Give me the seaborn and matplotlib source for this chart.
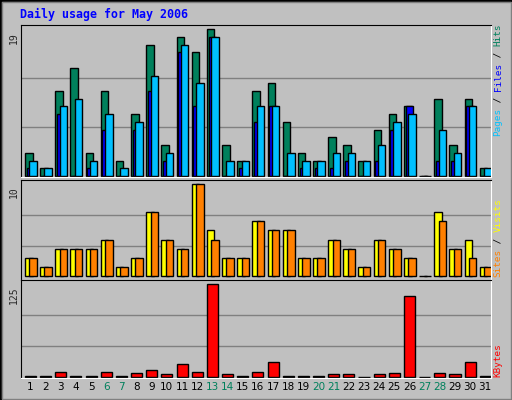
import numpy as np
import matplotlib
matplotlib.use("Agg")
import matplotlib.pyplot as plt
import seaborn as sns
from matplotlib.patches import Rectangle

sns.set_style("white")
plt.rcParams["font.family"] = ["DejaVu Sans"]

# --- data ---
days = list(range(1, 32))
hits = [3, 1, 11, 14, 3, 11, 2, 8, 17, 4, 18, 16, 19, 4, 2, 11, 12, 7, 3, 2, 5, 4, 2, 6, 8, 9, 0, 10, 4, 10, 1]
files = [2, 1, 9, 10, 2, 8, 1, 7, 13, 3, 17, 12, 18, 2, 2, 9, 9, 3, 2, 2, 3, 3, 2, 4, 7, 8, 0, 6, 3, 9, 1]
pages = [1, 0, 8, 0, 1, 6, 0, 6, 11, 2, 16, 9, 18, 0, 1, 7, 9, 0, 1, 1, 1, 2, 0, 2, 6, 9, 0, 2, 2, 9, 0]
visits = [2, 1, 3, 3, 3, 4, 1, 2, 7, 4, 3, 10, 5, 2, 2, 6, 5, 5, 2, 2, 4, 3, 1, 4, 3, 2, 0, 7, 3, 4, 1]
sites = [2, 1, 3, 3, 3, 4, 1, 2, 7, 4, 3, 10, 4, 2, 2, 6, 5, 5, 2, 2, 4, 3, 1, 4, 3, 2, 0, 6, 3, 2, 1]
kbytes = [1, 1, 6, 1, 1, 6, 1, 4.5, 9, 3, 17, 7, 125, 3, 1, 6, 20, 1, 1, 1, 3, 3, 0, 3, 4.5, 109, 0, 4.5, 3, 20, 1]
weekend_days = [6, 7, 13, 14, 20, 21, 27, 28]

BG = "#C0C0C0"
W, H = 512, 400
fig = plt.figure(figsize=(W / 100, H / 100), dpi=100, facecolor=BG)

def fax(x0, y0, x1, y1):
    # pixel box (top-left origin) -> figure axes
    return fig.add_axes([x0 / W, 1 - y1 / H, (x1 - x0) / W, (y1 - y0) / H])

def style(ax, ylim, top):
    ax.set_facecolor(BG)
    ax.set_xlim(0.5, 31.5)
    ax.set_ylim(*ylim)
    ax.set_xticks([])
    ax.set_yticks([])
    for y in (top / 3, 2 * top / 3):
        ax.axhline(y, color="#808080", lw=1, zorder=0)
    for s in ("top", "left"):
        ax.spines[s].set_color("black")
    for s in ("bottom", "right"):
        ax.spines[s].set_color("white")

x = np.array(days)
bar_kw = dict(edgecolor="black", linewidth=1, align="edge")

ax1 = fax(21, 25, 491, 177)
style(ax1, (-0.13, 19.55), 19)
ax1.bar(x - 0.24, hits, width=0.5, color="#00805C", **bar_kw)
ax1.bar(x - 0.13, pages, width=0.5, color="#0000FF", **bar_kw)
ax1.bar(x + 0.05, files, width=0.49, color="#00C0FF", **bar_kw)

ax2 = fax(21, 180, 491, 280)
style(ax2, (-0.4, 10.47), 10)
ax2.bar(x - 0.24, visits, width=0.5, color="#FFFF00", **bar_kw)
ax2.bar(x + 0.05, sites, width=0.49, color="#FF8000", **bar_kw)

ax3 = fax(21, 280, 491, 378)
style(ax3, (-1.8, 130.9), 125)
ax3.bar(x - 0.24, kbytes, width=0.73, color="#FF0000", **bar_kw)

# day labels, placed in data coords of the bottom panel
for d in days:
    ax3.text(d + 0.12, -0.09, str(d), transform=ax3.get_xaxis_transform(),
             ha="center", va="center", fontsize=7.5,
             color="#00805C" if d in weekend_days else "black")

# max value labels on the left
mono = "DejaVu Sans Mono"
for lab, py in (("19", 32), ("10", 186), ("125", 286)):
    fig.text(14 / W, 1 - py / H, lab, rotation=90, ha="center", va="top",
             fontsize=7, family=mono)

# rotated legends on the right, built from monospace pieces
cw = 5.6
def vlegend(pieces, ybottom):
    pos = 0
    for txt, col in pieces:
        fig.text(498 / W, 1 - (ybottom - pos * cw) / H, txt, rotation=90,
                 ha="center", va="bottom", fontsize=6.7, family=mono, color=col)
        pos += len(txt)

vlegend([("Pages", "#00C0FF"), (" / ", "black"), ("Files", "#0000FF"),
         (" / ", "black"), ("Hits", "#00805C")], 136)
vlegend([("Sites", "#FF8000"), (" / ", "black"), ("Visits", "#FFFF00")], 277)
vlegend([("KBytes", "#FF0000")], 377)

fig.text(20 / W, 1 - 14 / H, "Daily usage for May 2006", ha="left", va="center",
         fontsize=8.4, family=mono, weight="bold", color="#0000FF")

# 3D-ish frame
fig.patches.append(Rectangle((0, 0), 1, 1, transform=fig.transFigure, fill=False,
                             edgecolor="black", lw=2))
fig.patches.append(Rectangle((1.5 / W, 1.5 / H), (W - 3) / W, (H - 3) / H,
                             transform=fig.transFigure, fill=False, edgecolor="#808080", lw=1))

fig.savefig("out.png", dpi=100, facecolor=BG)
